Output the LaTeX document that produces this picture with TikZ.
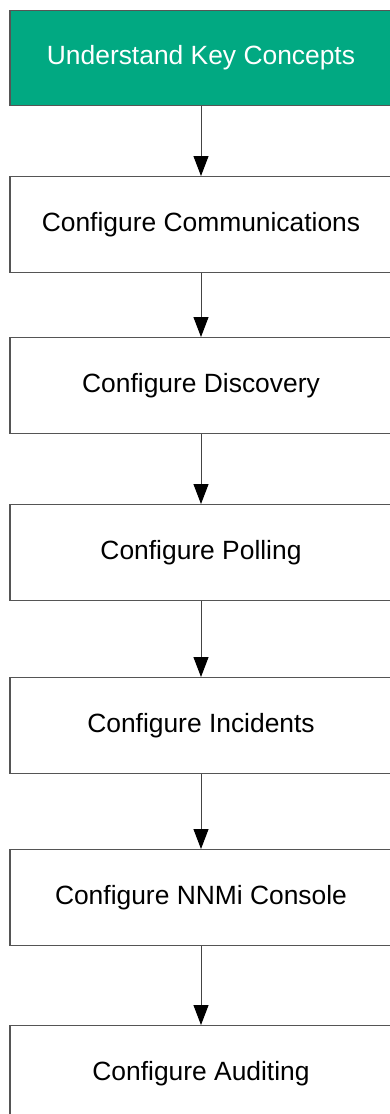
\documentclass[tikz,border=0pt]{standalone}
\usepackage{fontspec}
\setmainfont{Liberation Sans}
\usetikzlibrary{arrows.meta}
\definecolor{hpegreen}{HTML}{01A982}
\definecolor{edgegray}{HTML}{555555}
\begin{document}
\begin{tikzpicture}[x=1pt,y=-1pt,
  box/.style={draw=edgegray, line width=1.4pt, fill=white, text=black,
    minimum width=382pt, minimum height=95.5pt, inner sep=0pt, anchor=north,
    font=\fontsize{26.4}{31}\selectfont},
  greenbox/.style={box, fill=hpegreen, text=white},
  flow/.style={draw=edgegray!80!black, line width=1pt, -{Triangle[length=20pt,width=15pt,color=black,fill=black]}}]
\useasboundingbox (0,0) rectangle (390,1114);
\clip (0,0) rectangle (390,1114);
\node[greenbox] (b1) at (201,9.5) {Understand Key Concepts};
\node[box] (b2) at (201,176) {Configure Communications};
\node[box] (b3) at (201,337) {Configure Discovery};
\node[box] (b4) at (201,504) {Configure Polling};
\node[box] (b5) at (201,677) {Configure Incidents};
\node[box] (b6) at (201,849) {Configure NNMi Console};
\node[box] (b7) at (201,1025) {Configure Auditing};
\draw[flow] (b1.south) -- (b2.north);
\draw[flow] (b2.south) -- (b3.north);
\draw[flow] (b3.south) -- (b4.north);
\draw[flow] (b4.south) -- (b5.north);
\draw[flow] (b5.south) -- (b6.north);
\draw[flow] (b6.south) -- (b7.north);
\end{tikzpicture}
\end{document}
